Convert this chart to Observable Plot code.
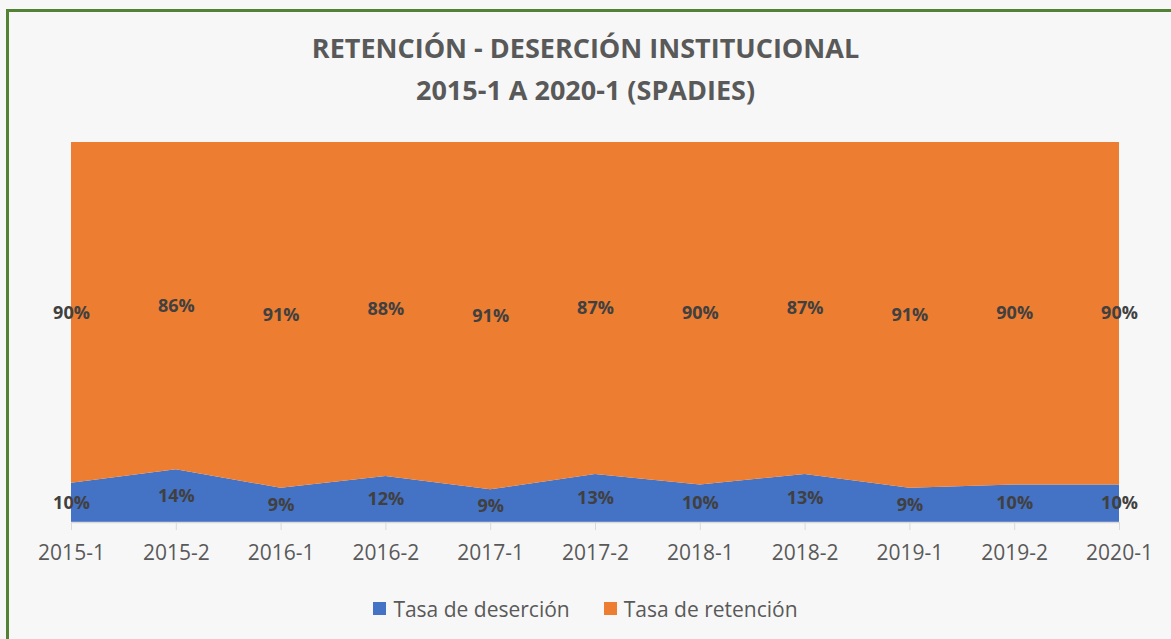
<!DOCTYPE html>
<html>
<head>
<meta charset="utf-8">
<script src="https://cdn.jsdelivr.net/npm/d3@7"></script>
<script src="https://cdn.jsdelivr.net/npm/@observablehq/plot@0.6"></script>
<style>
  html, body { margin: 0; padding: 0; background: #f7f7f7; overflow: hidden; width: 1171px; height: 639px; }
  #frame { position: absolute; left: 6px; top: 9px; width: 1300px; height: 800px;
           border-left: 3px solid #548235; border-top: 3px solid #548235; box-sizing: border-box; }
  #wrap { position: absolute; left: 0; top: 0; width: 1171px; font-family: "Open Sans", sans-serif; }
  #title { height: 120px; box-sizing: border-box; padding-top: 27px; text-align: center;
           font-size: 27px; font-weight: 700; line-height: 42px; color: #595959; }
  #legend { height: 50px; box-sizing: border-box; padding-top: 10px; text-align: center;
            font-size: 21px; line-height: 30px; color: #595959; }
  .item { display: inline-flex; align-items: center; margin: 0 17px; }
  .sw { width: 13px; height: 13px; display: inline-block; margin-right: 7px; }
</style>
</head>
<body>
<div id="frame"></div>
<div id="wrap">
  <div id="title">RETENCIÓN - DESERCIÓN INSTITUCIONAL<br>2015-1 A 2020-1 (SPADIES)</div>
  <div id="chart"></div>
  <div id="legend"></div>
</div>
<script>
const periods = ["2015-1","2015-2","2016-1","2016-2","2017-1","2017-2","2018-1","2018-2","2019-1","2019-2","2020-1"];
const desercion = [10.3, 13.9, 9.0, 12.1, 8.6, 12.6, 9.9, 12.6, 9.0, 9.9, 9.9];
const retencion = [89.7, 86.1, 91.0, 87.9, 91.4, 87.4, 90.1, 87.4, 91.0, 90.1, 90.1];
const seriesNames = ["Tasa de deserción", "Tasa de retención"];
const colors = ["#4472c4", "#ed7d31"];

const rows = periods.map((p, i) => ({
  i, period: p, d: desercion[i], r: retencion[i],
  dMid: desercion[i] / 2, rMid: desercion[i] + retencion[i] / 2
}));

const chart = Plot.plot({
  width: 1171,
  height: 462,
  marginTop: 22,
  marginBottom: 60,
  marginLeft: 71,
  marginRight: 52,
  style: { background: "transparent", fontFamily: "Open Sans, sans-serif", color: "#595959" },
  x: { type: "linear", domain: [0, periods.length - 1] },
  y: { domain: [0, 100], axis: null },
  marks: [
    Plot.areaY(rows, { x: "i", y1: 0, y2: "d", fill: colors[0], curve: "linear" }),
    Plot.areaY(rows, { x: "i", y1: "d", y2: d => d.d + d.r, fill: colors[1], curve: "linear" }),
    Plot.ruleY([0], { stroke: "#d9d9d9", strokeWidth: 1.5 }),
    Plot.axisX({
      ticks: rows.map(d => d.i),
      tickFormat: i => periods[i],
      tickSize: 8,
      tickPadding: 15,
      stroke: "#d9d9d9",
      fill: "#595959",
      fontSize: 21,
      label: null
    }),
    Plot.text(rows, { x: "i", y: "dMid", text: d => Math.round(d.d) + "%", fill: "#404040",
      fontSize: 18, fontWeight: "bold" }),
    Plot.text(rows, { x: "i", y: "rMid", text: d => Math.round(d.r) + "%", fill: "#404040",
      fontSize: 18, fontWeight: "bold" })
  ]
});
document.getElementById("chart").appendChild(chart);

const legend = document.getElementById("legend");
seriesNames.forEach((name, k) => {
  const it = document.createElement("span");
  it.className = "item";
  const sw = document.createElement("span");
  sw.className = "sw";
  sw.style.background = colors[k];
  it.appendChild(sw);
  it.appendChild(document.createTextNode(name));
  legend.appendChild(it);
});
</script>
</body>
</html>
